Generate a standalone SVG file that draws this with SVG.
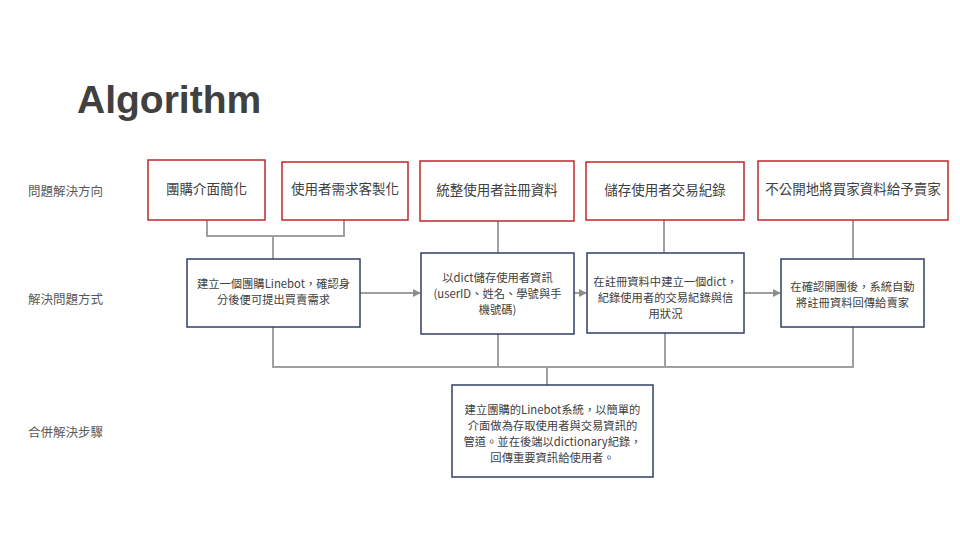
<svg xmlns="http://www.w3.org/2000/svg" width="960" height="540" viewBox="0 0 960 540">
  <defs>
    <style>
      .cjk { font-family: "Noto Sans CJK TC", "Noto Sans", sans-serif; fill: #404040; }
      .title { font-family: "Liberation Sans", Arial, sans-serif; font-weight: bold; font-size: 39px; fill: #404040; }
      .row { font-size: 12.5px; fill: #595959; }
      .top { font-size: 13.5px; text-anchor: middle; }
      .mid { font-size: 11.3px; text-anchor: middle; }
      .goal { fill: #ffffff; stroke: #c0282d; stroke-width: 1.5; }
      .step { fill: #ffffff; stroke: #2f3f66; stroke-width: 1.5; }
      .wire { fill: none; stroke: #a0a0a0; stroke-width: 2; }
    </style>
    <marker id="arrow" viewBox="0 0 10 10" refX="9" refY="5" markerWidth="4" markerHeight="4" orient="auto">
      <path d="M0,0 L10,5 L0,10 z" fill="#8c8c8c"/>
    </marker>
  </defs>

  <rect width="960" height="540" fill="#ffffff"/>

  <text class="title" x="77" y="113">Algorithm</text>

  <!-- row labels -->
  <g id="row-labels">
    <text class="cjk row" x="28" y="196">問題解決方向</text>
    <text class="cjk row" x="28" y="304">解決問題方式</text>
    <text class="cjk row" x="28" y="437">合併解決步驟</text>
  </g>

  <!-- connectors -->
  <g id="connectors">
    <path class="wire" d="M207,220 V236 H344 V220 M273,236 V259"/>
    <path class="wire" d="M498,221 V253"/>
    <path class="wire" d="M664,220 V253"/>
    <path class="wire" d="M853,220 V259"/>
    <path class="wire" d="M360,293 H420" marker-end="url(#arrow)"/>
    <path class="wire" d="M574,293 H586" marker-end="url(#arrow)"/>
    <path class="wire" d="M744,293 H780" marker-end="url(#arrow)"/>
    <path class="wire" d="M273,327 V367 H853 V327 M498,334 V367 M665,333 V367 M547,367 V385"/>
  </g>

  <!-- problem directions -->
  <g id="goal-simplify">
    <rect class="goal" x="148" y="160" width="117" height="60"/>
    <text class="cjk top" x="206.5" y="194">團購介面簡化</text>
  </g>
  <g id="goal-customize">
    <rect class="goal" x="282" y="162" width="126" height="58"/>
    <text class="cjk top" x="345" y="194">使用者需求客製化</text>
  </g>
  <g id="goal-register">
    <rect class="goal" x="420" y="161" width="154" height="60"/>
    <text class="cjk top" x="497" y="195">統整使用者註冊資料</text>
  </g>
  <g id="goal-records">
    <rect class="goal" x="586" y="162" width="158" height="58"/>
    <text class="cjk top" x="665" y="195">儲存使用者交易紀錄</text>
  </g>
  <g id="goal-privacy">
    <rect class="goal" x="758" y="161" width="190" height="59"/>
    <text class="cjk top" x="853" y="194">不公開地將買家資料給予賣家</text>
  </g>

  <!-- solution methods -->
  <g id="step-linebot">
    <rect class="step" x="187" y="259" width="173" height="68"/>
    <text class="cjk mid" x="273.5" y="288">建立一個團購Linebot，確認身</text>
    <text class="cjk mid" x="273.5" y="304">分後便可提出買賣需求</text>
  </g>
  <g id="step-dict">
    <rect class="step" x="421" y="253" width="153" height="81"/>
    <text class="cjk mid" x="497.5" y="282">以dict儲存使用者資訊</text>
    <text class="cjk mid" x="497.5" y="298">(userID、姓名、學號與手</text>
    <text class="cjk mid" x="497.5" y="314">機號碼)</text>
  </g>
  <g id="step-history">
    <rect class="step" x="587" y="253" width="157" height="80"/>
    <text class="cjk mid" x="665.5" y="286">在註冊資料中建立一個dict，</text>
    <text class="cjk mid" x="665.5" y="302">紀錄使用者的交易紀錄與信</text>
    <text class="cjk mid" x="665.5" y="318">用狀況</text>
  </g>
  <g id="step-send">
    <rect class="step" x="781" y="259" width="143" height="68"/>
    <text class="cjk mid" x="852.5" y="291">在確認開團後，系統自動</text>
    <text class="cjk mid" x="852.5" y="307">將註冊資料回傳給賣家</text>
  </g>

  <!-- combined solution -->
  <g id="combined">
    <rect class="step" x="452" y="385" width="201" height="92"/>
    <text class="cjk mid" x="552.5" y="414">建立團購的Linebot系統，以簡單的</text>
    <text class="cjk mid" x="552.5" y="430">介面做為存取使用者與交易資訊的</text>
    <text class="cjk mid" x="552.5" y="446">管道。並在後端以dictionary紀錄，</text>
    <text class="cjk mid" x="552.5" y="462">回傳重要資訊給使用者。</text>
  </g>
</svg>
